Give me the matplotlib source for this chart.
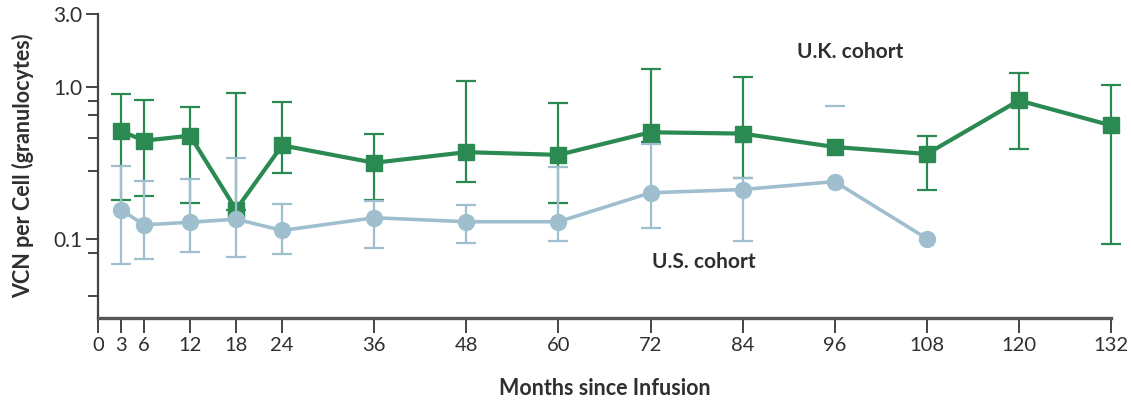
import numpy as np
import matplotlib.pyplot as plt

plt.rcParams['font.family'] = ['Lato', 'DejaVu Sans']

# VCN per cell in granulocytes, months since infusion
uk_months = [3, 6, 12, 18, 24, 36, 48, 60, 72, 84, 96, 108, 120, 132]
uk_vcn = [0.51, 0.44, 0.475, 0.155, 0.41, 0.315, 0.37, 0.355, 0.50, 0.49, 0.40, 0.36, 0.81, 0.555]
uk_upper = [0.89, 0.82, 0.73, 0.91, 0.79, 0.49, 1.09, 0.78, 1.31, 1.16, np.nan, 0.47, 1.22, 1.02]
uk_lower = [0.18, 0.19, 0.17, 0.155, 0.27, 0.18, 0.235, 0.17, 0.43, 0.25, np.nan, 0.21, 0.39, 0.092]

us_months = [3, 6, 12, 18, 24, 36, 48, 60, 72, 84, 96, 108]
us_vcn = [0.155, 0.123, 0.128, 0.134, 0.113, 0.137, 0.129, 0.129, 0.20, 0.21, 0.237, 0.10]
us_upper = [0.30, 0.24, 0.245, 0.34, 0.168, 0.177, 0.165, 0.295, 0.42, 0.25, 0.74, np.nan]
us_lower = [0.068, 0.073, 0.081, 0.076, 0.079, 0.086, 0.094, 0.096, 0.118, 0.097, np.nan, np.nan]

x_ticks = [0, 3, 6, 12, 18, 24, 36, 48, 60, 72, 84, 96, 108, 120, 132]
y_ticks = [0.1, 1.0, 3.0]
y_minor = [0.042, 0.08, 0.28, 0.46, 0.65, 0.8]

green = '#2a8a52'
blue = '#9fbfcf'
ink = '#2f2f2f'


def err(vals, lo, hi):
    vals = np.array(vals)
    return [vals - np.array(lo), np.array(hi) - vals]


fig = plt.figure(figsize=(11.31, 4.03), dpi=100)
ax = fig.add_axes([0.0866, 0.2109, 0.8957, 0.7544])

eb = ax.errorbar(uk_months, uk_vcn, yerr=err(uk_vcn, uk_lower, uk_upper), fmt='none',
                 ecolor=green, elinewidth=1.6, capsize=7, capthick=1.6, zorder=2)
for art in eb.lines[1] + eb.lines[2]:
    art.set_clip_on(False)
ax.plot(uk_months, uk_vcn, color=green, lw=3, marker='s', ms=12, zorder=3, clip_on=False)

eb = ax.errorbar(us_months, us_vcn, yerr=err(us_vcn, us_lower, us_upper), fmt='none',
                 ecolor=blue, elinewidth=1.6, capsize=7, capthick=1.6, zorder=4)
ax.plot(us_months, us_vcn, color=blue, lw=2.6, marker='o', ms=11.5, zorder=4)

ax.set_yscale('log')
ax.set_ylim(0.03, 3.0)
ax.set_xlim(0, 132)
ax.set_yticks(y_ticks)
ax.set_yticklabels(['0.1', '1.0', '3.0'])
ax.set_yticks(y_minor, minor=True)
ax.yaxis.set_minor_formatter(plt.NullFormatter())
ax.set_xticks(x_ticks)
ax.set_xticklabels([str(t) for t in x_ticks])

for side in ['top', 'right']:
    ax.spines[side].set_visible(False)
ax.spines['left'].set_color('#444444')
ax.spines['left'].set_linewidth(1.6)
ax.spines['bottom'].set_color('#555555')
ax.spines['bottom'].set_linewidth(2.4)

ax.tick_params(axis='y', which='major', length=9, width=1.4, color='#444444',
               labelsize=15, labelcolor=ink, pad=2)
ax.tick_params(axis='y', which='minor', length=7, width=1.4, color='#444444')
ax.tick_params(axis='x', length=11, width=1.4, color='#444444',
               labelsize=14.5, labelcolor=ink, pad=3)

ax.set_ylabel('VCN per Cell (granulocytes)', fontsize=15.5, fontweight='bold',
              color=ink, labelpad=14)
ax.set_xlabel('Months since Infusion', fontsize=15.5, fontweight='bold',
              color=ink, labelpad=17)

ax.text(98, 1.69, 'U.K. cohort', fontsize=15, fontweight='bold', color=ink,
        ha='center', va='center')
ax.text(79, 0.070, 'U.S. cohort', fontsize=15, fontweight='bold', color=ink,
        ha='center', va='center')

fig.savefig('out.png', dpi=100)
